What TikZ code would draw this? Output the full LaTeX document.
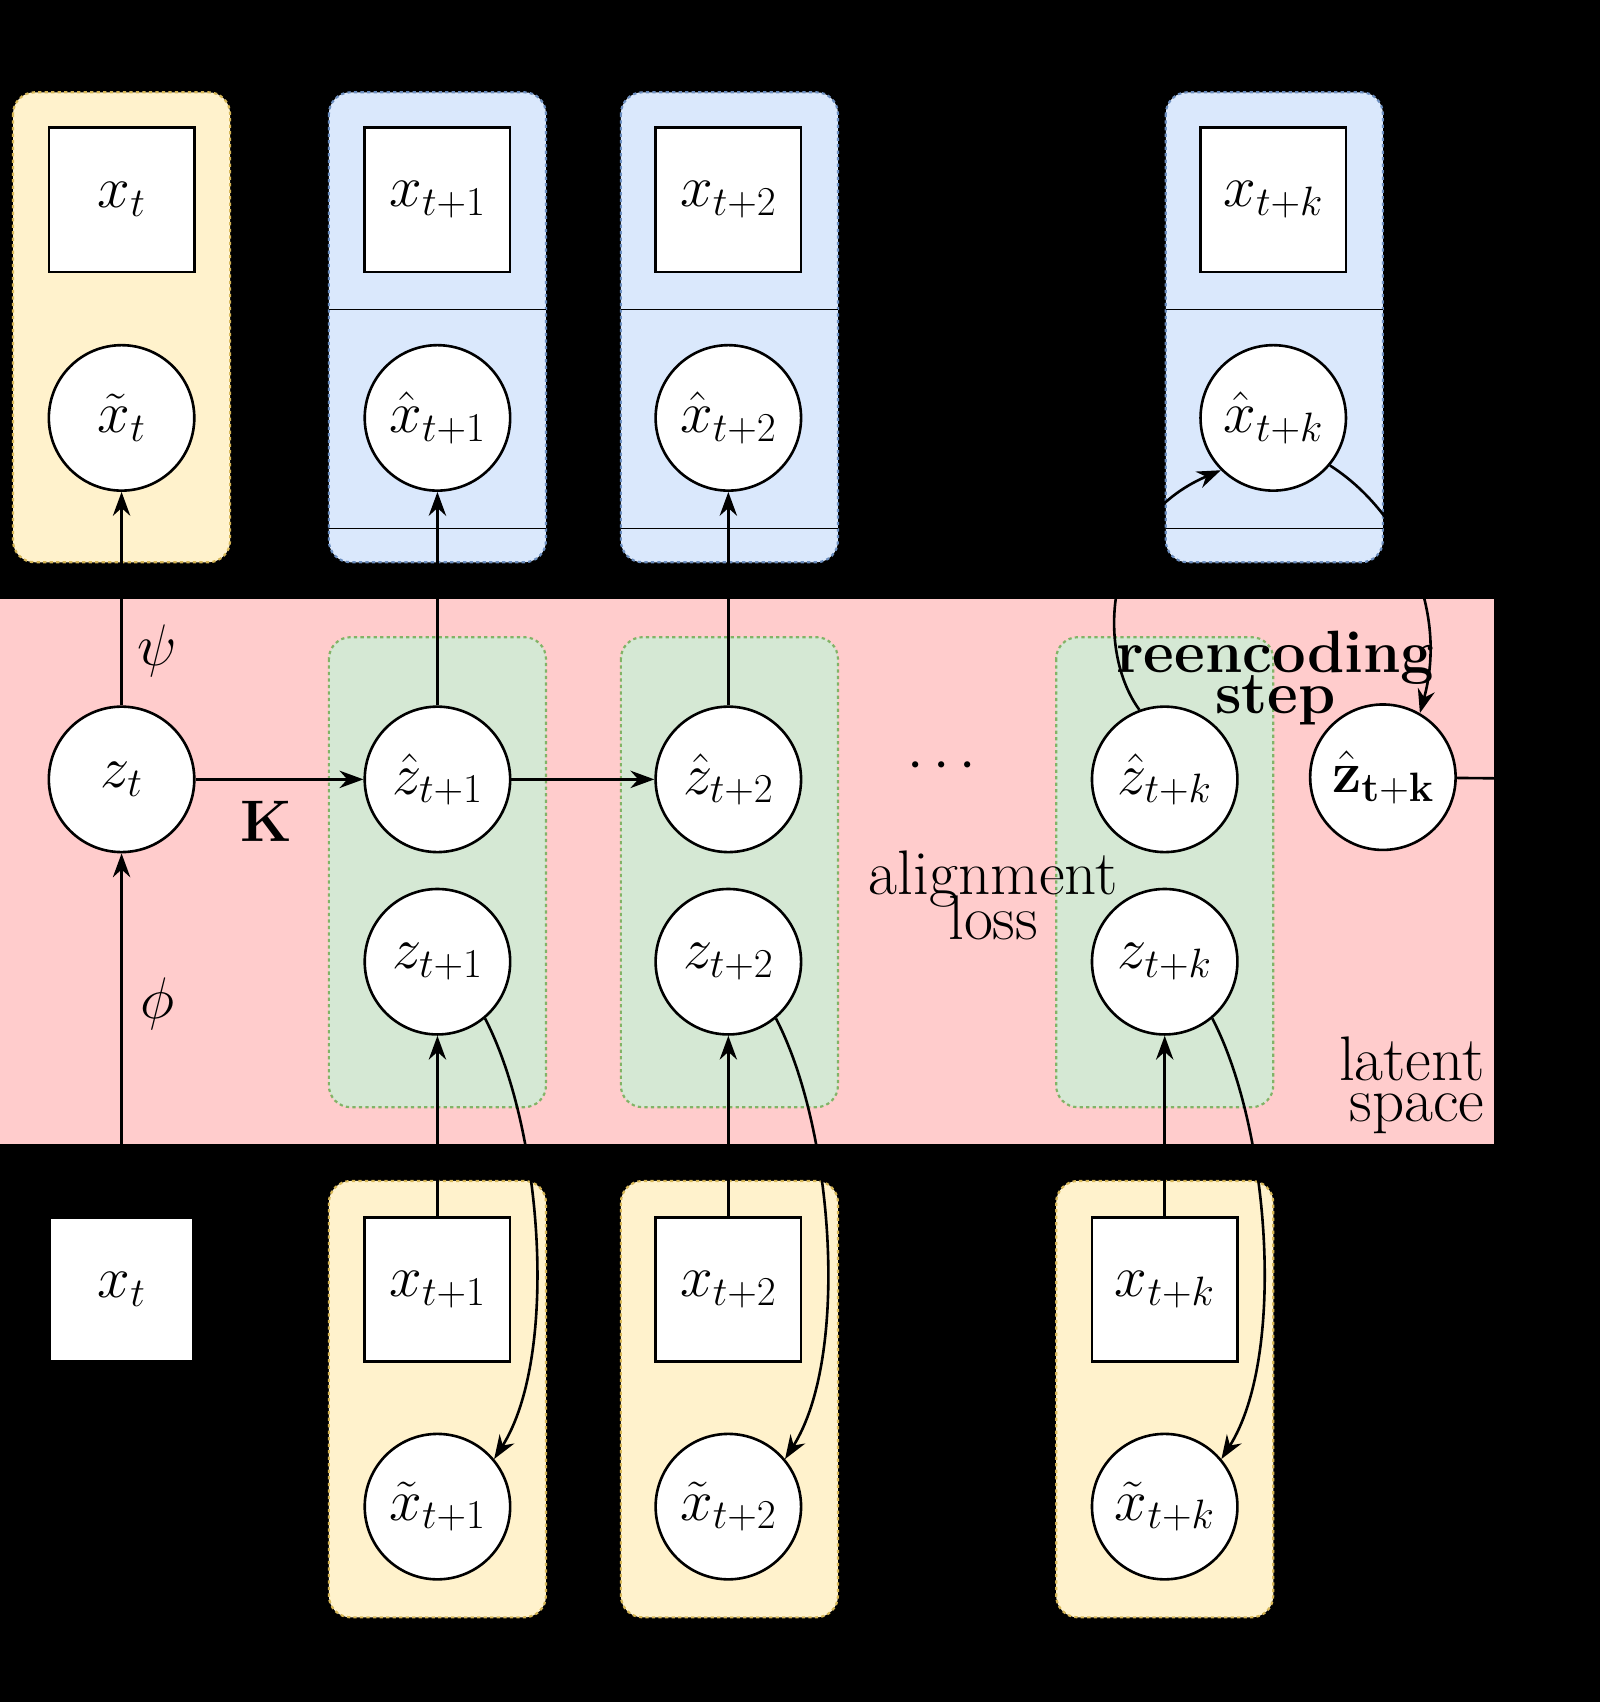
\RequirePackage{fix-cm}
\documentclass[tikz,border=0pt]{standalone}
\usepackage{amsmath}
\usetikzlibrary{arrows.meta}
\definecolor{yf}{HTML}{FFF2CC}\definecolor{yd}{HTML}{D6B656}
\definecolor{bf}{HTML}{DAE8FC}\definecolor{bd}{HTML}{6C8EBF}
\definecolor{gf}{HTML}{D5E8D4}\definecolor{gd}{HTML}{82B366}
\definecolor{rf}{HTML}{FFCCCC}
\begin{document}
\begin{tikzpicture}[x=1pt,y=-1pt,line width=2.4pt,
  every node/.style={font=\fontsize{54}{60}\selectfont},
  circ/.style={circle,draw,fill=white,minimum size=134pt,inner sep=0pt},
  sq/.style={draw,fill=white,minimum width=134pt,minimum height=133pt,inner sep=0pt},
  ybox/.style={draw=yd,fill=yf,dashed,rounded corners=20pt,line width=2pt},
  bbox/.style={draw=bd,fill=bf,dashed,rounded corners=20pt,line width=2pt},
  gbox/.style={draw=gd,fill=gf,dashed,rounded corners=20pt,line width=2pt},
  arr/.style={-{Stealth[length=22pt,width=16pt]}},
  lbl/.style={font=\fontsize{58}{50}\selectfont,align=center}]
\fill[black] (0,0) rectangle (1474,1568);
\useasboundingbox (0,0) rectangle (1474,1568);
% top boxes
\filldraw[ybox] (12,85) rectangle (212,518);
\foreach \x in {303,572,1074}{
  \filldraw[bbox] (\x,85) rectangle (\x+200,518);
  \draw[line width=1.5pt] (\x,285) -- (\x+200,285);
  \draw[line width=1.5pt] (\x,487) -- (\x+200,487);}
% red band
\fill[rf] (0,552) rectangle (1376,1054);
\foreach \x in {303,572,973}{\filldraw[gbox] (\x,587) rectangle (\x+200,1020);}
% bottom boxes
\foreach \x in {303,572,973}{\filldraw[ybox] (\x,1088) rectangle (\x+200,1490);}
% nodes top
\node[sq] (xt) at (112,184) {$x_t$};
\node[sq] (x1) at (403,184) {$x_{t+1}$};
\node[sq] (x2) at (671,184) {$x_{t+2}$};
\node[sq] (xk) at (1173,184) {$x_{t+k}$};
\node[circ] (xtt) at (112,385) {$\tilde x_t$};
\node[circ] (xh1) at (403,385) {$\hat x_{t+1}$};
\node[circ] (xh2) at (671,385) {$\hat x_{t+2}$};
\node[circ] (xhk) at (1173,385) {$\hat x_{t+k}$};
% latent
\node[circ] (zt) at (112,718) {$z_t$};
\node[circ] (zh1) at (403,718) {$\hat z_{t+1}$};
\node[circ] (zh2) at (671,718) {$\hat z_{t+2}$};
\node[circ] (zhk) at (1073,718) {$\hat z_{t+k}$};
\node[circ] (zbk) at (1274,716) {$\hat{\mathbf z}_{\mathbf{t+k}}$};
\node[circ] (z1) at (403,886) {$z_{t+1}$};
\node[circ] (z2) at (671,886) {$z_{t+2}$};
\node[circ] (zk) at (1073,886) {$z_{t+k}$};
\node (dots) at (872,706) {$\cdots$};
\node[lbl] (al) at (915,825) {alignment\\[-12pt]loss};
\node[lbl,font=\fontsize{55}{50}\selectfont\bfseries] (re) at (1175,625) {reencoding\\[-12pt]step};
\node[lbl,align=right,anchor=east] (ls) at (1372,1000) {latent\\[-12pt]space};
\node (K) at (245,757) {$\mathbf K$};
\node (psi) at (145,600) {$\psi$};
\node (phi) at (145,925) {$\phi$};
% bottom
\node[fill=white,minimum width=130pt,minimum height=130pt,inner sep=0pt] (bxt) at (112,1188) {$x_t$};
\node[sq] (bx1) at (403,1188) {$x_{t+1}$};
\node[sq] (bx2) at (671,1188) {$x_{t+2}$};
\node[sq] (bxk) at (1073,1188) {$x_{t+k}$};
\node[circ] (bt1) at (403,1388) {$\tilde x_{t+1}$};
\node[circ] (bt2) at (671,1388) {$\tilde x_{t+2}$};
\node[circ] (btk) at (1073,1388) {$\tilde x_{t+k}$};
\coordinate (zend) at (1474,718);
% connectors
\draw[arr] (zt) -- (xtt);
\draw[arr] (zh1) -- (xh1);
\draw[arr] (zh2) -- (xh2);
\draw[arr] (bxt) -- (zt);
\draw[arr] (bx1) -- (z1);
\draw[arr] (bx2) -- (z2);
\draw[arr] (bxk) -- (zk);
\draw[arr] (zt) -- (zh1);
\draw[arr] (zh1) -- (zh2);
\draw[arr] (z1.-50) .. controls (500,1040) and (515,1250) .. (bt1.40);
\draw[arr] (z2.-50) .. controls (768,1040) and (783,1250) .. (bt2.40);
\draw[arr] (zk.-50) .. controls (1170,1040) and (1185,1250) .. (btk.40);
\draw[arr] (zhk.110) .. controls (1010,600) and (1015,480) .. (xhk.-135);
\draw[arr] (xhk.-40) .. controls (1290,470) and (1335,560) .. (zbk.60);
\draw (zbk) -- (zend);
\end{tikzpicture}
\end{document}
